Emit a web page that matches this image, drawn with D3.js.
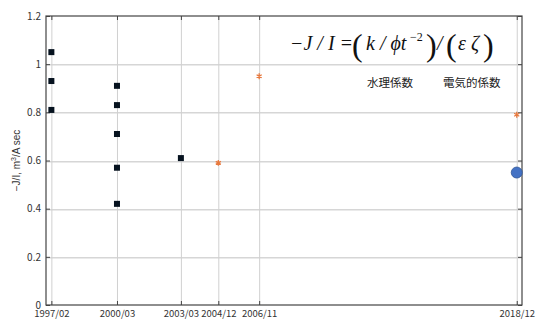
<!DOCTYPE html>
<html>
<head>
<meta charset="utf-8">
<script src="https://cdn.jsdelivr.net/npm/d3@7"></script>
<style>
  body { margin: 0; background: #fff; }
  svg { display: block; }
</style>
</head>
<body>
<svg id="chart" width="540" height="320"></svg>
<script>
// tick labels on the date axis
const dateTicks = ["1997/02", "2000/03", "2003/03", "2004/12", "2006/11", "2018/12"]
const yTicks = [0, 0.2, 0.4, 0.6, 0.8, 1, 1.2]

// black squares: measured points
const squareDates = ["1997/02", "1997/02", "1997/02", "2000/03", "2000/03", "2000/03", "2000/03", "2000/03", "2003/03"]
const squareValues = [1.05, 0.93, 0.81, 0.91, 0.83, 0.71, 0.57, 0.42, 0.61]

// orange stars: hydraulic coefficient
const starDates = ["2004/12", "2006/11", "2018/12"]
const starValues = [0.59, 0.95, 0.79]

// blue circle: electric coefficient
const circleDates = ["2018/12"]
const circleValues = [0.55]

const parse = d3.timeParse("%Y/%m")

const plotL = 46, plotR = 522, plotT = 16, plotB = 305

const svg = d3.select("#chart")

const x = d3.scaleTime()
    .domain([parse("1996/11"), parse("2019/03")])
    .range([plotL, plotR])
const y = d3.scaleLinear()
    .domain([0, 1.2])
    .range([plotB, plotT])

const tickFont = "'Noto Sans CJK JP', 'Noto Sans', sans-serif"

// grid: horizontal bands as thin rects, vertical as lines
svg.append("g").attr("class", "hgrid")
    .selectAll("rect").data(yTicks.slice(1, -1)).enter().append("rect")
    .attr("x", plotL).attr("width", plotR - plotL)
    .attr("y", d => Math.round(y(d)))
    .attr("height", 1.5)
    .attr("fill", "#d6d6d6")
svg.append("g").attr("class", "grid vgrid")
    .attr("transform", "translate(0," + plotB + ")")
    .call(d3.axisBottom(x).tickValues(dateTicks.map(parse)).tickSize(-(plotB - plotT)).tickFormat(""))
svg.selectAll(".grid .domain").remove()
svg.selectAll(".vgrid .tick line").attr("stroke", "#d0d0d0").attr("stroke-width", 1)

// axes (ticks inside, MATLAB style)
const xAxis = d3.axisBottom(x)
    .tickValues(dateTicks.map(parse))
    .tickFormat(d3.timeFormat("%Y/%m"))
    .tickSizeInner(-4).tickSizeOuter(0).tickPadding(5)
const yAxis = d3.axisLeft(y)
    .tickValues(yTicks)
    .tickFormat(d => d)
    .tickSizeInner(-4).tickSizeOuter(0).tickPadding(5)

const axes = svg.append("g").attr("class", "axes")
const gx = axes.append("g").attr("transform", "translate(0," + plotB + ")").call(xAxis)
const gy = axes.append("g").attr("transform", "translate(" + plotL + ",0)").call(yAxis)

// top and right ticks
axes.append("g").attr("transform", "translate(0," + plotT + ")")
    .call(d3.axisTop(x).tickValues(dateTicks.map(parse)).tickSizeInner(-4).tickSizeOuter(0).tickFormat(""))
axes.append("g").attr("transform", "translate(" + plotR + ",0)")
    .call(d3.axisRight(y).tickValues(yTicks).tickSizeInner(-4).tickSizeOuter(0).tickFormat(""))

axes.selectAll(".domain").attr("stroke", "none")
axes.selectAll(".tick line").attr("stroke", "#444")
axes.selectAll(".tick text")
    .attr("font-family", tickFont)
    .attr("fill", "#333")
gx.selectAll(".tick text").attr("font-size", "9.5px")
gy.selectAll(".tick text").attr("font-size", "10px")

// box
svg.append("rect")
    .attr("x", plotL).attr("y", plotT)
    .attr("width", plotR - plotL).attr("height", plotB - plotT)
    .attr("fill", "none").attr("stroke", "#444").attr("stroke-width", 1.2)

// y label
const yl = svg.append("text")
    .attr("transform", "translate(20," + ((plotT + plotB) / 2) + ") rotate(-90)")
    .attr("text-anchor", "middle")
    .attr("font-family", "'Liberation Sans', Arial, sans-serif")
    .attr("font-size", "10px")
    .attr("fill", "#333")
yl.append("tspan").text("\u2212J/I, m")
yl.append("tspan").attr("dy", -4).attr("font-size", "7px").text("3")
yl.append("tspan").attr("dy", 4).text("/A sec")

// data
svg.selectAll("rect.sq").data(squareValues).enter().append("rect")
    .attr("class", "sq")
    .attr("x", (d, i) => x(parse(squareDates[i])) - 3)
    .attr("y", d => y(d) - 3)
    .attr("width", 6).attr("height", 6)
    .attr("fill", "#06121f")

const star = d3.symbol().type(d3.symbolAsterisk).size(24)
svg.selectAll("path.st").data(starValues).enter().append("path")
    .attr("class", "st")
    .attr("d", star)
    .attr("transform", (d, i) => "translate(" + x(parse(starDates[i])) + "," + y(d) + ")")
    .attr("fill", "none").attr("stroke", "#e8793e").attr("stroke-width", 1.3)

svg.selectAll("circle.ci").data(circleValues).enter().append("circle")
    .attr("class", "ci")
    .attr("cx", (d, i) => x(parse(circleDates[i])))
    .attr("cy", d => y(d))
    .attr("r", 5.5)
    .attr("fill", "#4472c4").attr("stroke", "#2f5597").attr("stroke-width", 0.8)

// formula
const serif = "'Liberation Serif', 'Times New Roman', serif"
const f = svg.append("g")
    .attr("font-family", serif).attr("fill", "#111")
function piece(tx, ty, size, str, style) {
    f.append("text").attr("x", tx).attr("y", ty).attr("font-size", size + "px")
        .attr("font-style", style || "italic").text(str)
}
piece(290, 50, 20, "\u2212J / I =")
piece(352, 56, 32, "(", "normal")
piece(366, 50, 20, "k / \u03d5t")
piece(410, 41, 12, "\u22122", "normal")
piece(426, 56, 32, ")", "normal")
piece(437, 50, 20, "/")
piece(446, 56, 32, "(", "normal")
piece(458, 50, 20, "\u03b5 \u03b6")
piece(483, 56, 32, ")", "normal")

// coefficient labels
svg.append("text").attr("x", 367).attr("y", 87)
    .attr("font-family", "'Noto Sans CJK JP', sans-serif").attr("font-size", "11.5px").attr("fill", "#222")
    .text("水理係数")
svg.append("text").attr("x", 443).attr("y", 87)
    .attr("font-family", "'Noto Sans CJK JP', sans-serif").attr("font-size", "11.5px").attr("fill", "#222")
    .text("電気的係数")
</script>
</body>
</html>
